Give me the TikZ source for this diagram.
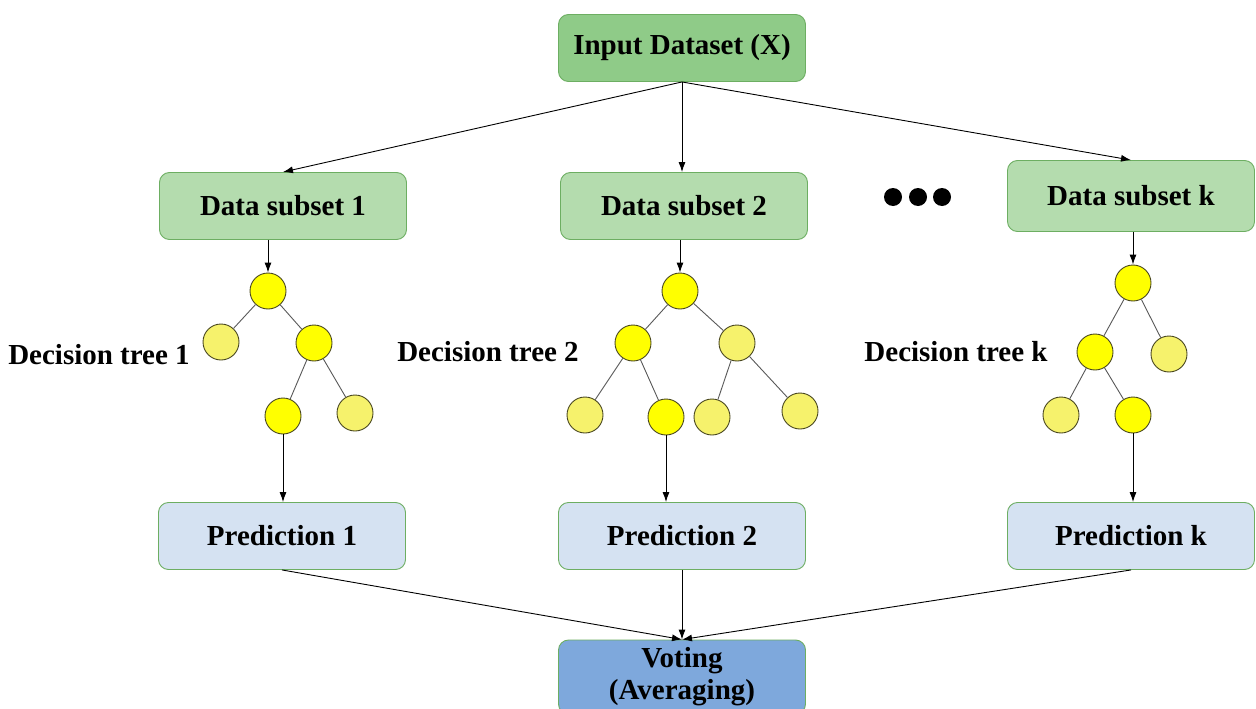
\documentclass[tikz,border=0pt]{standalone}
\usepackage{fontspec}
\setmainfont{Liberation Serif}
\usetikzlibrary{arrows.meta}
\definecolor{gfill}{HTML}{8FCB88}
\definecolor{gline}{HTML}{6DAE62}
\definecolor{sfill}{HTML}{B4DCAE}
\definecolor{pfill}{HTML}{D5E2F2}
\definecolor{vfill}{HTML}{7EA8DC}
\definecolor{ybright}{HTML}{FFFF00}
\definecolor{ylight}{HTML}{F6F26C}
\definecolor{yline}{HTML}{4A4820}
\tikzset{
  box/.style={draw=gline, line width=0.9pt, rounded corners=10pt, minimum width=247pt, minimum height=67pt, inner sep=0pt, font=\fontsize{29}{31}\selectfont\bfseries, align=center},
  inbox/.style={box, fill=gfill},
  subbox/.style={box, fill=sfill},
  predbox/.style={box, fill=pfill},
  votebox/.style={box, fill=vfill},
  leafb/.style={circle, draw=yline, line width=0.9pt, fill=ybright, minimum size=36pt, inner sep=0pt},
  leafl/.style={leafb, fill=ylight},
  edge/.style={draw=black!65, line width=0.9pt},
  arr/.style={draw=black, line width=0.9pt, -{Latex[length=10pt,width=7pt]}},
  lbl/.style={font=\fontsize{29}{31}\selectfont\bfseries, inner sep=0pt},
  dot/.style={circle, fill=black, minimum width=15pt, minimum height=18pt, inner sep=0pt}
}
\begin{document}
\begin{tikzpicture}[x=1pt,y=-1pt]
\useasboundingbox (0,0) rectangle (1256,709);
\fill[white] (0,0) rectangle (1256,709);
% boxes
\node[inbox] (in) at (682,48) {Input Dataset (X)};
\node[subbox] (s1) at (283,206) {Data subset 1};
\node[subbox] (s2) at (684,206) {Data subset 2};
\node[subbox, minimum height=71pt] (sk) at (1131,196) {Data subset k};
\node[predbox] (p1) at (282,536) {Prediction 1};
\node[predbox] (p2) at (682,536) {Prediction 2};
\node[predbox] (pk) at (1131,536) {Prediction k};
\node[votebox, minimum height=74pt] (v) at (682,677) {Voting\\[1pt](Averaging)};
% dots
\node[dot] (d1) at (893,197) {};
\node[dot] (d2) at (918,197) {};
\node[dot] (d3) at (942,197) {};
% labels
\node[lbl] (l1) at (99,355) {Decision tree 1};
\node[lbl] (l2) at (488,352) {Decision tree 2};
\node[lbl] (lk) at (956,352) {Decision tree k};
% tree 1
\node[leafb] (a0) at (268,291) {};
\node[leafl] (a1) at (221,342) {};
\node[leafb] (a2) at (314,343) {};
\node[leafb] (a3) at (283,416) {};
\node[leafl] (a4) at (355,413) {};
\draw[edge] (a0) -- (a1); \draw[edge] (a0) -- (a2);
\draw[edge] (a2) -- (a3); \draw[edge] (a2) -- (a4);
% tree 2
\node[leafb] (b0) at (680,291) {};
\node[leafb] (b1) at (633,343) {};
\node[leafl] (b2) at (737,343) {};
\node[leafl] (b3) at (585,415) {};
\node[leafb] (b4) at (666,417) {};
\node[leafl] (b5) at (712,417) {};
\node[leafl] (b6) at (800,411) {};
\draw[edge] (b0) -- (b1); \draw[edge] (b0) -- (b2);
\draw[edge] (b1) -- (b3); \draw[edge] (b1) -- (b4);
\draw[edge] (b2) -- (b5); \draw[edge] (b2) -- (b6);
% tree k
\node[leafb] (c0) at (1133,283) {};
\node[leafb] (c1) at (1095,352) {};
\node[leafl] (c2) at (1169,354) {};
\node[leafl] (c3) at (1061,415) {};
\node[leafb] (c4) at (1133,415) {};
\draw[edge] (c0) -- (c1); \draw[edge] (c0) -- (c2);
\draw[edge] (c1) -- (c3); \draw[edge] (c1) -- (c4);
% arrows from input
\draw[arr] (in.south) -- (s1.north);
\draw[arr] (in.south) -- (in.south |- s2.north);
\draw[arr] (in.south) -- (sk.north);
% subset to root
\draw[arr] (a0 |- s1.south) -- (a0.north);
\draw[arr] (b0 |- s2.south) -- (b0.north);
\draw[arr] (c0 |- sk.south) -- (c0.north);
% leaf to prediction
\draw[arr] (a3.south) -- (a3 |- p1.north);
\draw[arr] (b4.south) -- (b4 |- p2.north);
\draw[arr] (c4.south) -- (c4 |- pk.north);
% predictions to voting
\draw[arr] (p1.south) -- (v.north);
\draw[arr] (p2.south) -- (v.north);
\draw[arr] (pk.south) -- (v.north);
\end{tikzpicture}
\end{document}
